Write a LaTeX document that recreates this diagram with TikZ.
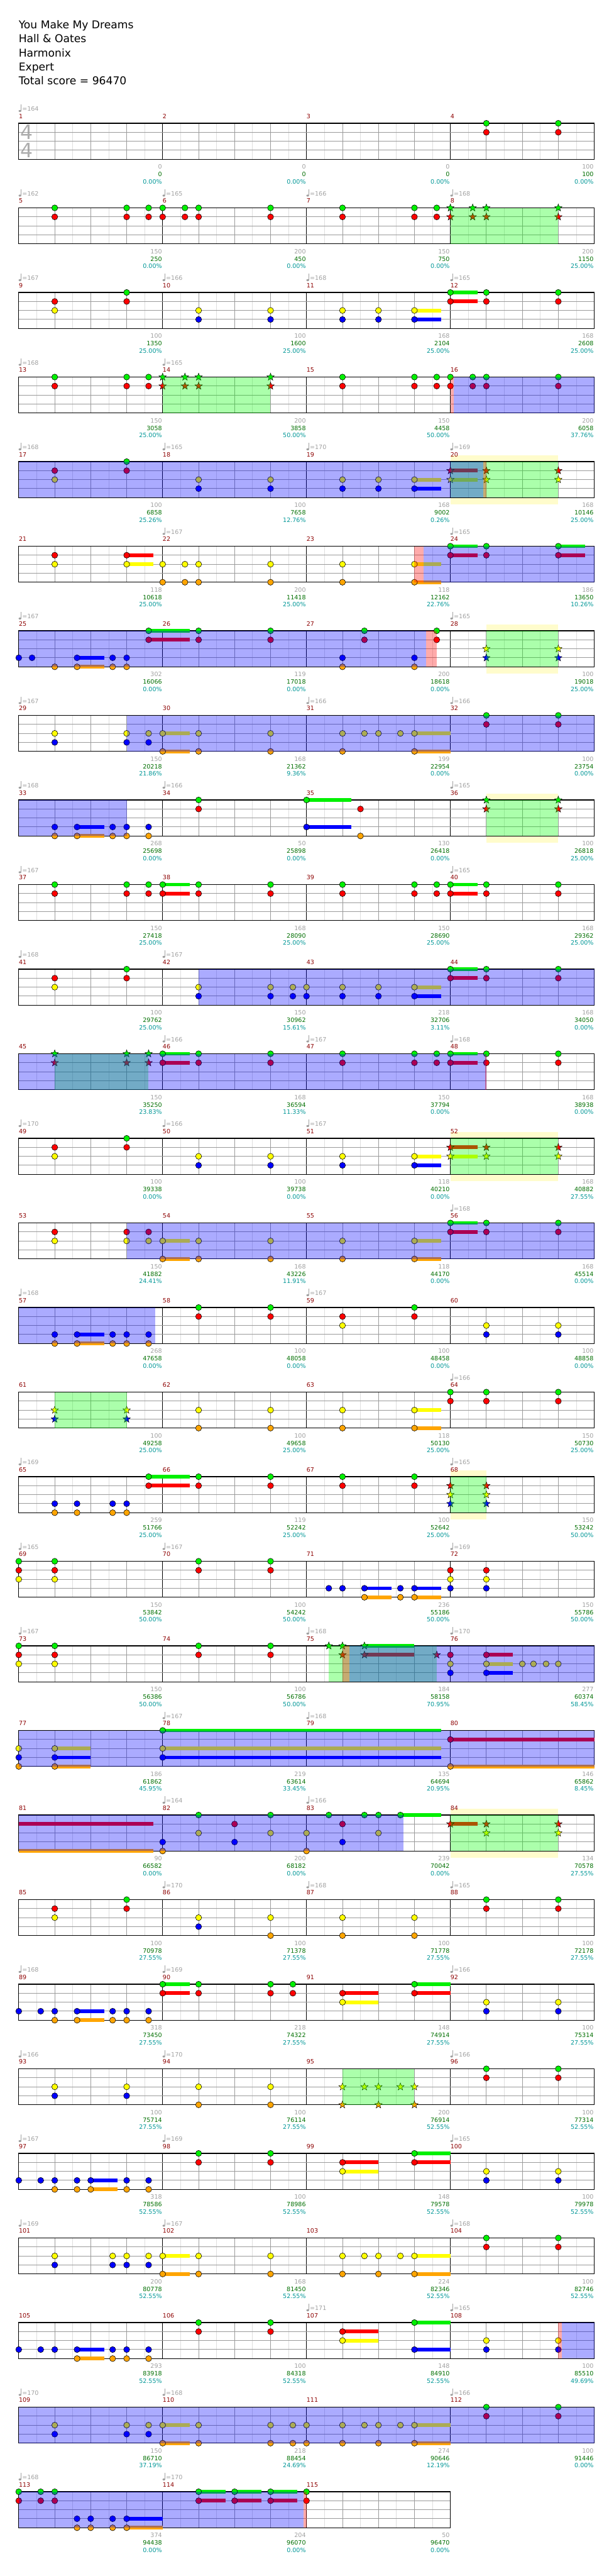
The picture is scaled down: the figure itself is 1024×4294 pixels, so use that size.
\documentclass[tikz,border=0pt]{standalone}
\usepackage{fontspec}
\setmainfont{DejaVu Sans}
\usetikzlibrary{shapes.geometric}

\definecolor{lane0}{RGB}{0,240,0}
\definecolor{lane1}{RGB}{255,0,0}
\definecolor{lane2}{RGB}{255,255,0}
\definecolor{lane3}{RGB}{0,0,255}
\definecolor{lane4}{RGB}{255,165,0}
\definecolor{measred}{RGB}{140,0,0}
\definecolor{softgray}{RGB}{160,160,160}
\definecolor{scoregreen}{RGB}{0,110,0}
\definecolor{pctteal}{RGB}{0,150,150}
\definecolor{gridgray}{RGB}{155,155,155}
\definecolor{gridlight}{RGB}{222,222,222}
\definecolor{spgreen}{RGB}{0,255,0}

\newcommand\staff[2]{%
  \pgfmathtruncatemacro\W{240*#2}%
  \pgfmathtruncatemacro\We{\W-30}%
  \pgfmathtruncatemacro\Wb{\W-60}%
  \pgfmathtruncatemacro\Wm{\W-240}%
  \fill[white] (0,0) rectangle (\W,60);
  \draw[eighthline] foreach \x in {30,90,...,\We} {(\x,0) -- (\x,60)};
  \draw[beatline] foreach \x in {60,120,...,\Wb} {(\x,0) -- (\x,60)};
  \draw[barline] foreach \x in {240,480,...,\Wm} {(\x,0) -- (\x,60)};
  \draw[laneline] foreach \y in {15,30,45} {(0,\y) -- (\W,\y)};
  \draw[staffframe] (0,0) rectangle (\W,60);
  \foreach \i in {1,...,#2} {%
    \pgfmathtruncatemacro\m{#1+\i-1}%
    \node[measnum] (m\m) at (240*\i-240,-8) {\m};}%
}
\newcommand\tempi[1]{%
  \foreach \i/\t in {#1} {%
    \fill[softgray] (240*\i+2,-20.5) ellipse [x radius=2.3, y radius=1.7];
    \draw[softgray, line width=0.6pt] (240*\i+4,-21) -- (240*\i+4,-31);
    \node[tempotext] (q\R-\i) at (240*\i+5.5,-20) {=\t};}%
}
\newcommand\scores[1]{%
  \foreach \g/\s/\p [count=\i] in {#1} {%
    \node[graynum] (g\R-\i) at (240*\i-1,76) {\g};
    \node[greennum] (c\R-\i) at (240*\i-1,89) {\s};
    \node[pctnum] (p\R-\i) at (240*\i-1,101) {\p\%};}%
}
\newcommand\gems[1]{%
  \foreach \b/\l [count=\i] in {#1} {\foreach \k in \l {%
    \node[note, fill=lane\k] (n\R-\i-\k) at (60*\b,15*\k) {};}}%
}
\newcommand\stargems[1]{%
  \foreach \b/\l [count=\i] in {#1} {\foreach \k in \l {%
    \node[starnote, fill=lane\k] (s\R-\i-\k) at (60*\b,15*\k) {};}}%
}
\newcommand\sustain[1]{%
  \foreach \s/\e/\l in {#1} {\foreach \k in \l {%
    \fill[lane\k] (60*\s,15*\k-3) rectangle (60*\e,15*\k+3);}}%
}
\newcommand\overdrive[2]{\fill[odfill] (60*#1,0) rectangle (60*#2,60);}
\newcommand\starpower[2]{\fill[spfill] (60*#1,0) rectangle (60*#2,60);}
\newcommand\activate[2]{\fill[actfill] (60*#1,0) rectangle (60*#2,60);}
\newcommand\bonus[2]{\fill[bonusfill] (60*#1,-10) rectangle (60*#2,71);}

\begin{document}
\begin{tikzpicture}[
  x=1pt, y=-1pt,
  smalltext/.style={font=\fontsize{10}{12}\selectfont, inner sep=0pt},
  titletext/.style={font=\fontsize{18}{22}\selectfont, anchor=base west, inner sep=0pt},
  measnum/.style={smalltext, text=measred, anchor=base west},
  tempotext/.style={smalltext, text=softgray, anchor=base west},
  graynum/.style={smalltext, text=softgray, anchor=base east},
  greennum/.style={smalltext, text=scoregreen, anchor=base east},
  pctnum/.style={smalltext, text=pctteal, anchor=base east},
  timesig/.style={font=\fontsize{33}{33}\selectfont, text=softgray!85, inner sep=0pt},
  eighthline/.style={gridlight, line width=0.8pt},
  beatline/.style={gridgray, line width=0.9pt},
  laneline/.style={gridgray, line width=1.1pt},
  barline/.style={black, line width=0.8pt},
  staffframe/.style={black, line width=1.3pt},
  note/.style={circle, draw=black, line width=0.6pt, inner sep=0pt, minimum size=10pt},
  starnote/.style={star, star points=5, star point ratio=2.4, draw=black, line width=0.5pt,
    inner sep=0pt, minimum size=13pt},
  odfill/.style={fill=blue, fill opacity=0.33},
  spfill/.style={fill=spgreen, fill opacity=0.33},
  actfill/.style={fill=red, fill opacity=0.33},
  bonusfill/.style={fill=yellow, fill opacity=0.2},
  chartrow/.style={shift={(31.3,205.5+141*#1)}, /utils/exec={\def\R{#1}}}
]
\useasboundingbox (0,0) rectangle (1024,4294);

\node[titletext] (song) at (31,48) {You Make My Dreams};
\node[titletext] (artist) at (31,71) {Hall \& Oates};
\node[titletext] (charter) at (31,94.5) {Harmonix};
\node[titletext] (level) at (31,118) {Expert};
\node[titletext] (total) at (31,141) {Total score = 96470};

\begin{scope}[chartrow=0]
\staff{1}{4}
\node[timesig] (sig1) at (13.5,15) {4};
\node[timesig] (sig2) at (13.5,45) {4};
\draw[laneline] (0,15) -- (27,15) (0,45) -- (27,45);
\tempi{0/164}
\scores{0/0/0.00,0/0/0.00,0/0/0.00,100/100/0.00}
\gems{13/{0,1},15/{0,1}}
\end{scope}

\begin{scope}[chartrow=1]
\staff{5}{4}
\tempi{0/162,1/165,2/166,3/168}
\scores{150/250/0.00,200/450/0.00,150/750/0.00,200/1150/25.00}
\gems{1/{0,1},3/{0,1},3.61/{0,1},4/{0,1},4.62/{0,1},5/{0,1},7/{0,1},9/{0,1},11/{0,1},11.62/{0,1}}
\stargems{12/{0,1},12.62/{0,1},13/{0,1},15/{0,1}}
\starpower{12}{15}
\end{scope}

\begin{scope}[chartrow=2]
\staff{9}{4}
\tempi{0/167,1/166,2/168,3/165}
\scores{100/1350/25.00,100/1600/25.00,168/2104/25.00,168/2608/25.00}
\sustain{11/11.75/{2,3},12/12.75/{0,1}}
\gems{1/{1,2},3/{0,1},5/{2,3},7/{2,3},9/{2,3},10/{2,3},11/{2,3},12/{0,1},13/{0,1},15/{0,1}}
\end{scope}

\begin{scope}[chartrow=3]
\staff{13}{4}
\tempi{0/168,1/165}
\scores{150/3058/25.00,200/3858/50.00,150/4458/50.00,200/6058/37.76}
\gems{1/{0,1},3/{0,1},3.61/{0,1},9/{0,1},11/{0,1},11.62/{0,1},12/{0,1},12.62/{0,1},13/{0,1},15/{0,1}}
\stargems{4/{0,1},4.62/{0,1},5/{0,1},7/{0,1}}
\starpower{4}{7}
\activate{12}{12.1}
\overdrive{12.1}{16}
\end{scope}

\begin{scope}[chartrow=4]
\bonus{12}{15}
\staff{17}{4}
\tempi{0/168,1/165,2/170,3/169}
\scores{100/6858/25.26,100/7658/12.76,168/9002/0.26,168/10146/25.00}
\sustain{11/11.75/{2,3},12/12.75/{1,2}}
\gems{1/{1,2},3/{0,1},5/{2,3},7/{2,3},9/{2,3},10/{2,3},11/{2,3}}
\stargems{12/{1,2},13/{1,2},15/{1,2}}
\starpower{12}{15}
\activate{12.92}{13}
\overdrive{0}{12.92}
\end{scope}

\begin{scope}[chartrow=5]
\staff{21}{4}
\tempi{1/167,3/165}
\scores{118/10618/25.00,200/11418/25.00,118/12162/22.76,186/13650/10.26}
\sustain{3/3.75/{1,2},11/11.75/{2,4},12/12.75/{0,1},15/15.75/{0,1}}
\gems{1/{1,2},3/{1,2},4/{2,4},4.62/{2,4},5/{2,4},7/{2,4},9/{2,4},11/{2,4},12/{0,1},13/{0,1},15/{0,1}}
\activate{11}{11.26}
\overdrive{11.26}{16}
\end{scope}

\begin{scope}[chartrow=6]
\bonus{13}{15}
\staff{25}{4}
\tempi{0/167,3/165}
\scores{302/16066/0.00,119/17018/0.00,200/18618/0.00,100/19018/25.00}
\sustain{1.62/2.37/{3,4},3.61/4.75/{0,1}}
\gems{0/{3},0.37/{3},1/{4},1.62/{3,4},2.61/{3,4},3/{3,4},3.61/{0,1},5/{0,1},7/{0,1},9/{3,4},9.61/{0,1},11/{3,4},11.62/{0,1}}
\stargems{13/{2,3},15/{2,3}}
\starpower{13}{15}
\overdrive{0}{11.33}
\activate{11.33}{11.62}
\end{scope}

\begin{scope}[chartrow=7]
\staff{29}{4}
\tempi{0/167,2/166,3/166}
\scores{150/20218/21.86,168/21362/9.36,199/22954/0.00,100/23754/0.00}
\sustain{4/4.75/{2,4},11/12/{2,4}}
\gems{1/{2,3},3/{2,3},3.61/{2,3},4/{2,4},5/{2,4},7/{2,4},9/{2,4},9.61/{2},10/{2},10.61/{2},11/{2,4},13/{0,1},15/{0,1}}
\overdrive{3}{16}
\end{scope}

\begin{scope}[chartrow=8]
\bonus{13}{15}
\staff{33}{4}
\tempi{0/168,1/166,3/165}
\scores{268/25698/0.00,50/25898/0.00,130/26418/0.00,100/26818/25.00}
\sustain{1.62/2.37/{3,4},8/9.24/{0,3}}
\gems{1/{3,4},1.62/{3,4},2.61/{3,4},3/{3,4},3.61/{3,4},5/{0,1},8/{0,3},9.5/{1,4}}
\stargems{13/{0,1},15/{0,1}}
\starpower{13}{15}
\overdrive{0}{3}
\end{scope}

\begin{scope}[chartrow=9]
\staff{37}{4}
\tempi{0/167,3/165}
\scores{150/27418/25.00,168/28090/25.00,150/28690/25.00,168/29362/25.00}
\sustain{4/4.75/{0,1},12/12.75/{0,1}}
\gems{1/{0,1},3/{0,1},3.61/{0,1},4/{0,1},5/{0,1},7/{0,1},9/{0,1},11/{0,1},11.62/{0,1},12/{0,1},13/{0,1},15/{0,1}}
\end{scope}

\begin{scope}[chartrow=10]
\staff{41}{4}
\tempi{0/168,1/167}
\scores{100/29762/25.00,150/30962/15.61,218/32706/3.11,168/34050/0.00}
\sustain{11/11.75/{2,3},12/12.75/{0,1}}
\gems{1/{1,2},3/{0,1},5/{2,3},7/{2,3},7.62/{2,3},8/{2,3},9/{2,3},10/{2,3},11/{2,3},12/{0,1},13/{0,1},15/{0,1}}
\overdrive{5}{16}
\end{scope}

\begin{scope}[chartrow=11]
\staff{45}{4}
\tempi{1/166,2/167,3/168}
\scores{150/35250/23.83,168/36594/11.33,150/37794/0.00,168/38938/0.00}
\sustain{4/4.75/{0,1},12/12.75/{0,1}}
\gems{4/{0,1},5/{0,1},7/{0,1},9/{0,1},11/{0,1},11.62/{0,1},12/{0,1},13/{0,1},15/{0,1}}
\stargems{1/{0,1},3/{0,1},3.61/{0,1}}
\starpower{1}{3.61}
\overdrive{0}{13}
\activate{12.96}{13}
\end{scope}

\begin{scope}[chartrow=12]
\bonus{12}{15}
\staff{49}{4}
\tempi{0/170,1/166,2/167}
\scores{100/39338/0.00,100/39738/0.00,118/40210/0.00,168/40882/27.55}
\sustain{11/11.75/{2,3},12/12.75/{1,2}}
\gems{1/{1,2},3/{0,1},5/{2,3},7/{2,3},9/{2,3},11/{2,3}}
\stargems{12/{1,2},13/{1,2},15/{1,2}}
\starpower{12}{15}
\end{scope}

\begin{scope}[chartrow=13]
\staff{53}{4}
\tempi{3/168}
\scores{150/41882/24.41,168/43226/11.91,118/44170/0.00,168/45514/0.00}
\sustain{4/4.75/{2,4},11/11.75/{2,4},12/12.75/{0,1}}
\gems{1/{1,2},3/{1,2},3.61/{1,2},4/{2,4},5/{2,4},7/{2,4},9/{2,4},11/{2,4},12/{0,1},13/{0,1},15/{0,1}}
\overdrive{3}{16}
\end{scope}

\begin{scope}[chartrow=14]
\staff{57}{4}
\tempi{0/168,2/167}
\scores{268/47658/0.00,100/48058/0.00,100/48458/0.00,100/48858/0.00}
\sustain{1.62/2.37/{3,4}}
\gems{1/{3,4},1.62/{3,4},2.61/{3,4},3/{3,4},3.61/{3,4},5/{0,1},7/{0,1},9/{1,2},11/{0,1},13/{2,3},15/{2,3}}
\overdrive{0}{3.8}
\end{scope}

\begin{scope}[chartrow=15]
\staff{61}{4}
\tempi{3/166}
\scores{100/49258/25.00,100/49658/25.00,118/50130/25.00,150/50730/25.00}
\sustain{11/11.75/{2,4}}
\gems{5/{2,4},7/{2,4},9/{2,4},11/{2,4},12/{0,1},13/{0,1},15/{0,1}}
\stargems{1/{2,3},3/{2,3}}
\starpower{1}{3}
\end{scope}

\begin{scope}[chartrow=16]
\bonus{12}{13}
\staff{65}{4}
\tempi{0/169,3/165}
\scores{259/51766/25.00,119/52242/25.00,100/52642/25.00,150/53242/50.00}
\sustain{3.61/4.75/{0,1}}
\gems{1/{3,4},1.62/{3,4},2.61/{3,4},3/{3,4},3.61/{0,1},5/{0,1},7/{0,1},9/{0,1},11/{0,1}}
\stargems{12/{1,2,3},13/{1,2,3}}
\starpower{12}{13}
\end{scope}

\begin{scope}[chartrow=17]
\staff{69}{4}
\tempi{0/165,1/167,3/169}
\scores{150/53842/50.00,100/54242/50.00,236/55186/50.00,150/55786/50.00}
\sustain{9.61/10.37/{3,4},11/11.75/{3,4}}
\gems{0/{0,1,2},1/{0,1,2},5/{0,1},7/{0,1},8.62/{3},9/{3},9.61/{3,4},10.61/{3,4},11/{3,4},12/{1,2,3},13/{1,2,3}}
\end{scope}

\begin{scope}[chartrow=18]
\staff{73}{4}
\tempi{0/167,2/168,3/170}
\scores{150/56386/50.00,100/56786/50.00,184/58158/70.95,277/60374/58.45}
\sustain{9.61/11/{0,1},13/13.74/{1,2,3}}
\gems{0/{0,1,2},1/{0,1,2},5/{0,1},7/{0,1},12/{1,2,3},13/{1,2,3},14/{2},14.31/{2},14.66/{2},15/{2}}
\stargems{8.62/{0},9/{0,1},9.61/{0,1},11.62/{1}}
\starpower{8.62}{11.62}
\activate{9}{9.2}
\overdrive{9.2}{16}
\end{scope}

\begin{scope}[chartrow=19]
\staff{77}{4}
\tempi{1/167,2/168}
\scores{186/61862/45.95,219/63614/33.45,135/64694/20.95,146/65862/8.45}
\sustain{1/2/{2,3,4},4/11.75/{0,2,3},12/16/{1,4}}
\gems{0/{2,3,4},1/{2,3,4},4/{0,2,3},12/{1,4}}
\overdrive{0}{16}
\end{scope}

\begin{scope}[chartrow=20]
\bonus{12}{15}
\staff{81}{4}
\tempi{1/164,2/166}
\scores{90/66582/0.00,200/68182/0.00,239/70042/0.00,134/70578/27.55}
\sustain{0/3.74/{1,4},10.61/11.75/{0},12/12.75/{1}}
\gems{4/{3,4},5/{0,2},6/{1,3},7/{0,2},8/{2,4},8.62/{0},9/{1,3},9.61/{0},10/{0,2},10.61/{0}}
\stargems{12/{1},13/{1,2},15/{1,2}}
\starpower{12}{15}
\overdrive{0}{10.7}
\end{scope}

\begin{scope}[chartrow=21]
\staff{85}{4}
\tempi{1/170,2/168,3/165}
\scores{100/70978/27.55,100/71378/27.55,100/71778/27.55,100/72178/27.55}
\gems{1/{1,2},3/{0,1},5/{2,3},7/{2,4},9/{2,4},11/{2,4},13/{0,1},15/{0,1}}
\end{scope}

\begin{scope}[chartrow=22]
\staff{89}{4}
\tempi{0/168,1/169,3/166}
\scores{318/73450/27.55,218/74322/27.55,148/74914/27.55,100/75314/27.55}
\sustain{1.62/2.37/{3,4},4/4.75/{0,1},9/10/{1,2},11/12/{0,1}}
\gems{0/{3},0.61/{3},1/{3,4},1.62/{3,4},2.61/{3,4},3/{3,4},3.61/{3,4},4/{0,1},5/{0,1},7/{0,1},7.62/{0,1},9/{1,2},11/{0,1},13/{2,3},15/{2,3}}
\end{scope}

\begin{scope}[chartrow=23]
\staff{93}{4}
\tempi{0/166,1/170,3/166}
\scores{100/75714/27.55,100/76114/27.55,200/76914/52.55,100/77314/52.55}
\gems{1/{2,3},3/{2,3},5/{2,4},7/{2,4},13/{0,1},15/{0,1}}
\stargems{9/{2,4},9.61/{2},10/{2,4},10.61/{2},11/{2,4}}
\starpower{9}{11}
\end{scope}

\begin{scope}[chartrow=24]
\staff{97}{4}
\tempi{0/167,1/169,3/165}
\scores{318/78586/52.55,100/78986/52.55,148/79578/52.55,100/79978/52.55}
\sustain{2/2.74/{3,4},9/10/{1,2},11/12/{0,1}}
\gems{0/{3},0.61/{3},1/{3,4},1.62/{3,4},2/{3,4},3/{3,4},3.61/{3,4},5/{0,1},7/{0,1},9/{1,2},11/{0,1},13/{2,3},15/{2,3}}
\end{scope}

\begin{scope}[chartrow=25]
\staff{101}{4}
\tempi{0/169,1/167,3/168}
\scores{200/80778/52.55,168/81450/52.55,224/82346/52.55,100/82746/52.55}
\sustain{4/4.75/{2,4},11/12/{2,4}}
\gems{1/{2,3},2.61/{2,3},3/{2,3},3.61/{2,3},4/{2,4},5/{2,4},7/{2,4},9/{2,4},9.61/{2},10/{2,4},10.61/{2},11/{2,4},13/{0,1},15/{0,1}}
\end{scope}

\begin{scope}[chartrow=26]
\staff{105}{4}
\tempi{2/171,3/165}
\scores{293/83918/52.55,100/84318/52.55,148/84910/52.55,100/85510/49.69}
\sustain{1.62/2.37/{3,4},9/10/{1,2},11/12/{0,3}}
\gems{0/{3},0.61/{3},1/{3},1.62/{3,4},2.61/{3,4},3/{3,4},3.61/{3,4},5/{0,1},7/{0,1},9/{1,2},11/{0,3},13/{2,3},15/{2,3}}
\activate{15}{15.09}
\overdrive{15.09}{16}
\end{scope}

\begin{scope}[chartrow=27]
\staff{109}{4}
\tempi{0/170,1/168,3/166}
\scores{150/86710/37.19,218/88454/24.69,274/90646/12.19,100/91446/0.00}
\sustain{4/4.75/{2,4},11/12/{2,4}}
\gems{1/{2,3},3/{2,3},3.61/{2,3},4/{2,4},5/{2,4},7/{2,4},7.62/{2,4},8/{2,4},9/{2,4},9.61/{2},10/{2,4},10.61/{2},11/{2,4},13/{0,1},15/{0,1}}
\overdrive{0}{16}
\end{scope}

\begin{scope}[chartrow=28]
\staff{113}{3}
\tempi{0/168,1/170}
\scores{374/94438/0.00,204/96070/0.00,50/96470/0.00}
\sustain{3/4/{3,4},5/5.75/{0,1},6/6.75/{0,1},7/7.75/{0,1}}
\gems{0/{0,1},0.61/{0,1},1/{0,1},1.62/{3,4},2/{3,4},2.61/{3,4},3/{3,4},5/{0,1},6/{0,1},7/{0,1},8/{0,1}}
\overdrive{0}{7.92}
\activate{7.92}{8}
\end{scope}
\end{tikzpicture}
\end{document}
